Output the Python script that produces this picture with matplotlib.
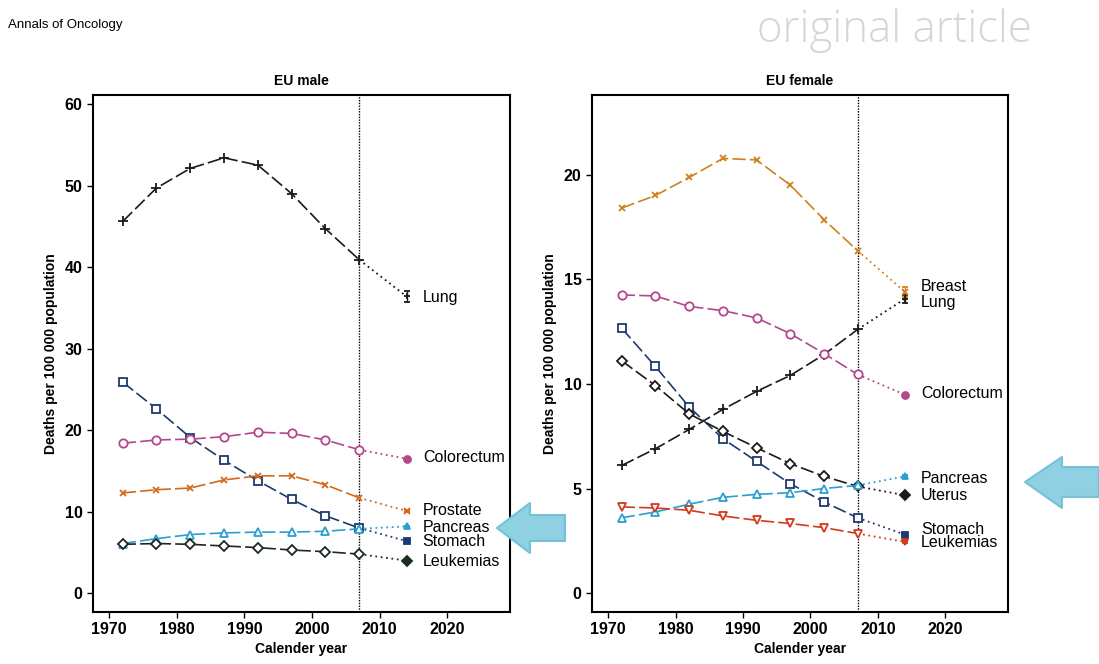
import numpy as np
import matplotlib.pyplot as plt
from matplotlib.patches import Polygon

plt.rcParams['font.family'] = ['Liberation Sans', 'DejaVu Sans']

# observed years and the predicted year
anos = [1972, 1977, 1982, 1987, 1992, 1997, 2002, 2007]
ano_pred = 2014

# EU male, deaths per 100 000
m_pulmao = [45.6, 49.7, 52.1, 53.4, 52.5, 49.0, 44.7, 40.9]
m_estomago = [25.9, 22.6, 19.1, 16.3, 13.8, 11.5, 9.5, 8.0]
m_colorretal = [18.4, 18.8, 18.9, 19.2, 19.75, 19.6, 18.8, 17.6]
m_prostata = [12.3, 12.7, 12.9, 13.9, 14.4, 14.4, 13.3, 11.7]
m_pancreas = [6.1, 6.7, 7.2, 7.4, 7.5, 7.5, 7.6, 7.9]
m_leucemias = [6.0, 6.1, 6.0, 5.8, 5.6, 5.3, 5.1, 4.8]
m_pred = [36.4, 6.4, 16.5, 10.1, 8.2, 4.0]
m_erro = [0.7, 0.1, 0.1, 0.1, 0.1, 0.1]
m_nomes = ['Lung', 'Stomach', 'Colorectum', 'Prostate', 'Pancreas', 'Leukemias']

# EU female, deaths per 100 000
f_mama = [18.4, 19.0, 19.86, 20.77, 20.7, 19.5, 17.85, 16.36]
f_pulmao = [6.1, 6.9, 7.82, 8.78, 9.64, 10.4, 11.4, 12.6]
f_colorretal = [14.25, 14.2, 13.7, 13.5, 13.15, 12.4, 11.45, 10.45]
f_estomago = [12.66, 10.83, 8.9, 7.38, 6.3, 5.23, 4.36, 3.6]
f_utero = [11.1, 9.92, 8.57, 7.73, 6.95, 6.19, 5.58, 5.1]
f_pancreas = [3.6, 3.88, 4.25, 4.58, 4.72, 4.8, 5.0, 5.15]
f_leucemias = [4.12, 4.07, 3.96, 3.69, 3.48, 3.33, 3.13, 2.85]
f_pred = [14.4, 14.06, 9.48, 2.8, 4.68, 5.58, 2.45]
f_erro = [0.25, 0.2, 0.05, 0.05, 0.05, 0.05, 0.05]
f_nomes = ['Breast', 'Lung', 'Colorectum', 'Stomach', 'Uterus', 'Pancreas', 'Leukemias']

# estilo de cada série
m_cores = ['#1a1a1a', '#1d3a6e', '#b3478c', '#d2691e', '#2a9fd0', '#1b2b1f']
m_marcas = ['+', 's', 'o', 'x', '^', 'D']
m_label_y = [36.3, 6.4, 16.7, 10.1, 8.1, 3.9]
f_cores = ['#d2801e', '#1a1a1a', '#b3478c', '#1d3a6e', '#1a1a1a', '#2a9fd0', '#d23a1e']
f_marcas = ['x', '+', 'o', 's', 'D', '^', 'v']
f_label_y = [14.65, 13.9, 9.53, 3.05, 4.68, 5.47, 2.4]

tamanho = {'+': 7, 'x': 5, 'D': 5.5, 's': 6, 'o': 6, '^': 6, 'v': 6}


def desenha(ax, obs, pred, erro, cor, marca, nome, ly):
    ax.plot(anos, obs, color=cor, lw=1.2, dashes=(8, 2.5), marker=marca,
            ms=tamanho[marca], mfc='white', mec=cor, mew=1.3, zorder=3)
    ax.plot([anos[-1], ano_pred], [obs[-1], pred], color=cor, lw=1.3,
            ls=(0, (1, 2)), zorder=2)
    ax.errorbar(ano_pred, pred, yerr=erro, fmt=marca, color=cor,
                ms=min(tamanho[marca], 5), mew=1.3, capsize=2.5,
                elinewidth=1, zorder=4)
    ax.text(2016.4, ly, nome, fontsize=11.5, va='center')


def eixo(ax, titulo, ylim, yticks):
    ax.axvline(2007, color='black', lw=1, ls=(0, (1, 1)), zorder=1)
    ax.set_xlim(1967.6, 2029.3)
    ax.set_ylim(*ylim)
    ax.set_xticks([1970, 1980, 1990, 2000, 2010, 2020])
    ax.set_yticks(yticks)
    ax.tick_params(labelsize=11.5, length=4, width=1)
    for t in ax.get_xticklabels() + ax.get_yticklabels():
        t.set_fontweight('bold')
    for s in ax.spines.values():
        s.set_linewidth(1.5)
    ax.set_title(titulo, fontsize=10, fontweight='bold', pad=7)
    ax.set_xlabel('Calender year', fontsize=10, fontweight='bold', labelpad=3)
    ax.set_ylabel('Deaths per 100 000 population', fontsize=10,
                  fontweight='bold', labelpad=5)


fig = plt.figure(figsize=(10.99, 6.64), dpi=100)
ax1 = fig.add_axes([0.0846, 0.0783, 0.3794, 0.7786])
ax2 = fig.add_axes([0.5387, 0.0783, 0.3785, 0.7786])

m_series = [m_pulmao, m_estomago, m_colorretal, m_prostata, m_pancreas, m_leucemias]
for i in range(len(m_series)):
    desenha(ax1, m_series[i], m_pred[i], m_erro[i], m_cores[i], m_marcas[i],
            m_nomes[i], m_label_y[i])

f_series = [f_mama, f_pulmao, f_colorretal, f_estomago, f_utero, f_pancreas, f_leucemias]
for i in range(len(f_series)):
    desenha(ax2, f_series[i], f_pred[i], f_erro[i], f_cores[i], f_marcas[i],
            f_nomes[i], f_label_y[i])

eixo(ax1, 'EU male', (-2.3, 61.1), [0, 10, 20, 30, 40, 50, 60])
eixo(ax2, 'EU female', (-0.9, 23.8), [0, 5, 10, 15, 20])

# cabeçalho da página
fig.text(0.007, 0.962, 'Annals of Oncology', fontsize=9.5, va='center')
fig.text(0.689, 0.954, 'original article', fontsize=31.5,
         family=['Open Sans', 'Liberation Sans'], color='#d6d6d6',
         fontweight='light', va='center')


# setas azuis (coordenadas em pixels da figura)
def seta(pts):
    xy = [(x / 1099, 1 - y / 664) for x, y in pts]
    fig.patches.append(Polygon(xy, closed=True, transform=fig.transFigure,
                               facecolor='#8fd0e2', edgecolor='#74c2d8',
                               lw=1.5, joinstyle='round', zorder=10))


seta([(497, 528), (530, 503), (530, 515), (565, 515), (565, 541), (530, 541), (530, 553)])
seta([(1025, 482), (1062, 457), (1062, 467), (1099, 467), (1099, 497), (1062, 497), (1062, 508)])

fig.savefig('out.png', dpi=100)
